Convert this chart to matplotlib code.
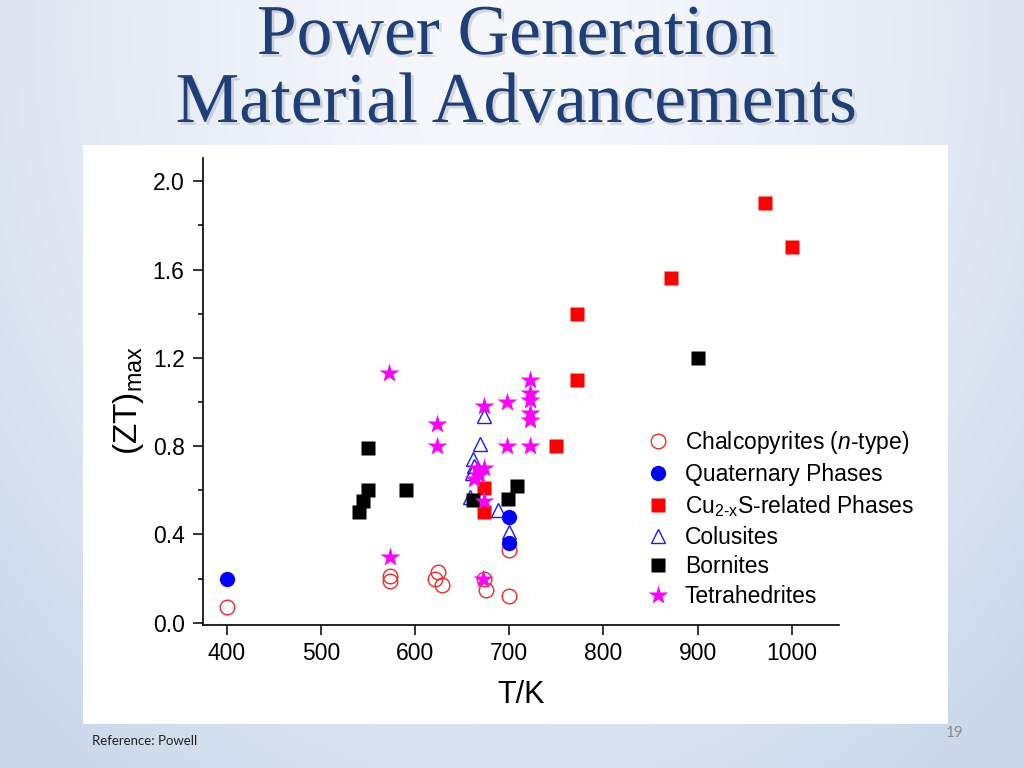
import numpy as np
import matplotlib
matplotlib.use("Agg")
import matplotlib.pyplot as plt
from matplotlib.patches import Rectangle
import matplotlib.patheffects as pe

plt.rcParams['font.family'] = ['Liberation Sans', 'DejaVu Sans']
plt.rcParams['mathtext.fontset'] = 'custom'
plt.rcParams['mathtext.rm'] = 'Liberation Sans'
plt.rcParams['mathtext.it'] = 'Liberation Sans:italic'
plt.rcParams['mathtext.bf'] = 'Liberation Sans:bold'

# ---------------- data (T in K, ZTmax) ----------------
chalco_T = [400, 573, 573, 621, 624, 629, 673, 675, 700, 700]
chalco_ZT = [0.07, 0.21, 0.19, 0.20, 0.23, 0.17, 0.20, 0.15, 0.33, 0.12]

quat_T = [400, 700, 700]
quat_ZT = [0.20, 0.48, 0.36]

cu2s_T = [673, 673, 750, 772, 772, 872, 972, 1000]
cu2s_ZT = [0.61, 0.50, 0.80, 1.10, 1.40, 1.56, 1.90, 1.70]

colus_T = [673, 669, 661, 663, 660, 658, 688, 700]
colus_ZT = [0.935, 0.81, 0.74, 0.71, 0.68, 0.57, 0.51, 0.41]

born_T = [550, 550, 545, 540, 590, 661, 699, 708, 900]
born_ZT = [0.79, 0.60, 0.55, 0.50, 0.60, 0.555, 0.56, 0.62, 1.20]

tetra_T = [572, 623, 623, 573, 673, 698, 698, 722, 722, 722, 722, 722, 722,
           666, 673, 663, 668, 673, 672]
tetra_ZT = [1.13, 0.90, 0.80, 0.30, 0.98, 1.00, 0.80, 1.10, 1.04, 1.01, 0.95,
            0.92, 0.80, 0.70, 0.70, 0.65, 0.67, 0.55, 0.20]

labels = [r'Chalcopyrites ($\mathit{n}$-type)', 'Quaternary Phases',
          r'Cu$_{\mathrm{2\text{-}x}}$S-related Phases', 'Colusites', 'Bornites',
          'Tetrahedrites']

x_ticks = [400, 500, 600, 700, 800, 900, 1000]
y_ticks = [0.0, 0.4, 0.8, 1.2, 1.6, 2.0]

# ---------------- figure & slide background ----------------
W, H = 1024, 768
fig = plt.figure(figsize=(W / 100, H / 100), dpi=100)

bg = fig.add_axes([0, 0, 1, 1], zorder=-5)
bg.set_axis_off()
xx = np.linspace(-1, 1, 256)
yy = np.linspace(-1, 1, 192)
X, Y = np.meshgrid(xx, yy)
r = np.clip(np.sqrt((X * 1.0) ** 2 + ((Y + 0.9) * 0.6) ** 2), 0, 1.4) / 1.4
c_in = np.array([0.965, 0.973, 0.988])
c_out = np.array([0.80, 0.85, 0.92])
img = c_in[None, None, :] * (1 - r[..., None] ** 1.5) + c_out[None, None, :] * (r[..., None] ** 1.5)
bg.imshow(img, extent=[0, 1, 0, 1], aspect='auto', origin='upper', zorder=0)
bg.set_xlim(0, 1)
bg.set_ylim(0, 1)

# white chart panel
bg.add_patch(Rectangle((83 / W, 1 - 724 / H), (948 - 83) / W, (724 - 145) / H,
                       transform=bg.transAxes, facecolor='white',
                       edgecolor='none', zorder=2))

# title
title_kw = dict(ha='center', va='baseline', fontsize=51.5, color='#1f3f78',
                family=['Liberation Serif', 'DejaVu Serif'],
                path_effects=[pe.withSimplePatchShadow(offset=(2, -2), shadow_rgbFace='#8a8a8a', alpha=0.3)])
fig.text(516 / W, 1 - 54 / H, 'Power Generation', **title_kw)
fig.text(516 / W, 1 - 122 / H, 'Material Advancements', **title_kw)

fig.text(92 / W, 1 - 741 / H, 'Reference: Powell', fontsize=9.5, color='#222222',
         family=['Lato', 'DejaVu Sans'], va='center', ha='left')
fig.text(955 / W, 1 - 733 / H, '19', fontsize=11, color='#8c8c8c',
         family=['Lato', 'DejaVu Sans'], va='center', ha='center')

# ---------------- chart axes ----------------
ax = fig.add_axes([203.3 / W, 1 - 625 / H, (839.3 - 203.3) / W, (625 - 158) / H], zorder=1)
ax.set_facecolor('none')

ax.plot(chalco_T, chalco_ZT, ls='none', marker='o', ms=10.5, mfc='none',
        mec='#ee2a2a', mew=1.0, label=labels[0], zorder=3)
ax.plot(colus_T, colus_ZT, ls='none', marker='^', ms=9.5, mfc='none',
        mec='#1a1aff', mew=1.0, label=labels[3], zorder=4)
ax.plot(cu2s_T, cu2s_ZT, ls='none', marker='s', ms=10, mfc='#ff0000',
        mec='none', label=labels[2], zorder=5)
ax.plot(born_T, born_ZT, ls='none', marker='s', ms=10, mfc='#000000',
        mec='none', label=labels[4], zorder=5)
ax.plot(quat_T, quat_ZT, ls='none', marker='o', ms=11, mfc='#0000ff',
        mec='none', label=labels[1], zorder=6)
ax.plot(tetra_T, tetra_ZT, ls='none', marker='*', ms=14.5, mfc='#ff00ff',
        mec='none', label=labels[5], zorder=7)

ax.set_xlim(375, 1050.5)
ax.set_ylim(-0.01, 2.105)
ax.set_xticks(x_ticks)
ax.set_yticks(y_ticks)
ax.set_yticks(np.arange(0.2, 2.1, 0.4), minor=True)
ax.set_yticklabels([f'{v:.1f}' for v in y_ticks])
ax.set_xticklabels([str(v) for v in x_ticks])

for s in ['top', 'right']:
    ax.spines[s].set_visible(False)
for s in ['left', 'bottom']:
    ax.spines[s].set_linewidth(1.2)
ax.tick_params(axis='both', which='major', direction='out', length=7, width=1.1,
               labelsize=16.5, pad=5)
ax.tick_params(axis='y', which='major', pad=6.5)
ax.tick_params(axis='y', which='minor', direction='out', length=3.5, width=1.1)

ax.set_xlabel('T/K', fontsize=22, labelpad=11)
ax.set_ylabel(r'(ZT)$_{\mathrm{max}}$', fontsize=24, labelpad=5)
ax.yaxis.label.set_y(0.48)

handles, labs = ax.get_legend_handles_labels()
order = [labs.index(l) for l in labels]
leg = ax.legend([handles[i] for i in order], [labs[i] for i in order],
                loc='upper left', bbox_to_anchor=(647 / W, 1 - 429 / H),
                bbox_transform=fig.transFigure, frameon=False, fontsize=16.5,
                borderpad=0, borderaxespad=0, handlelength=1.0,
                handletextpad=0.65, labelspacing=0.3, numpoints=1)

fig.savefig('out.png', dpi=100)
